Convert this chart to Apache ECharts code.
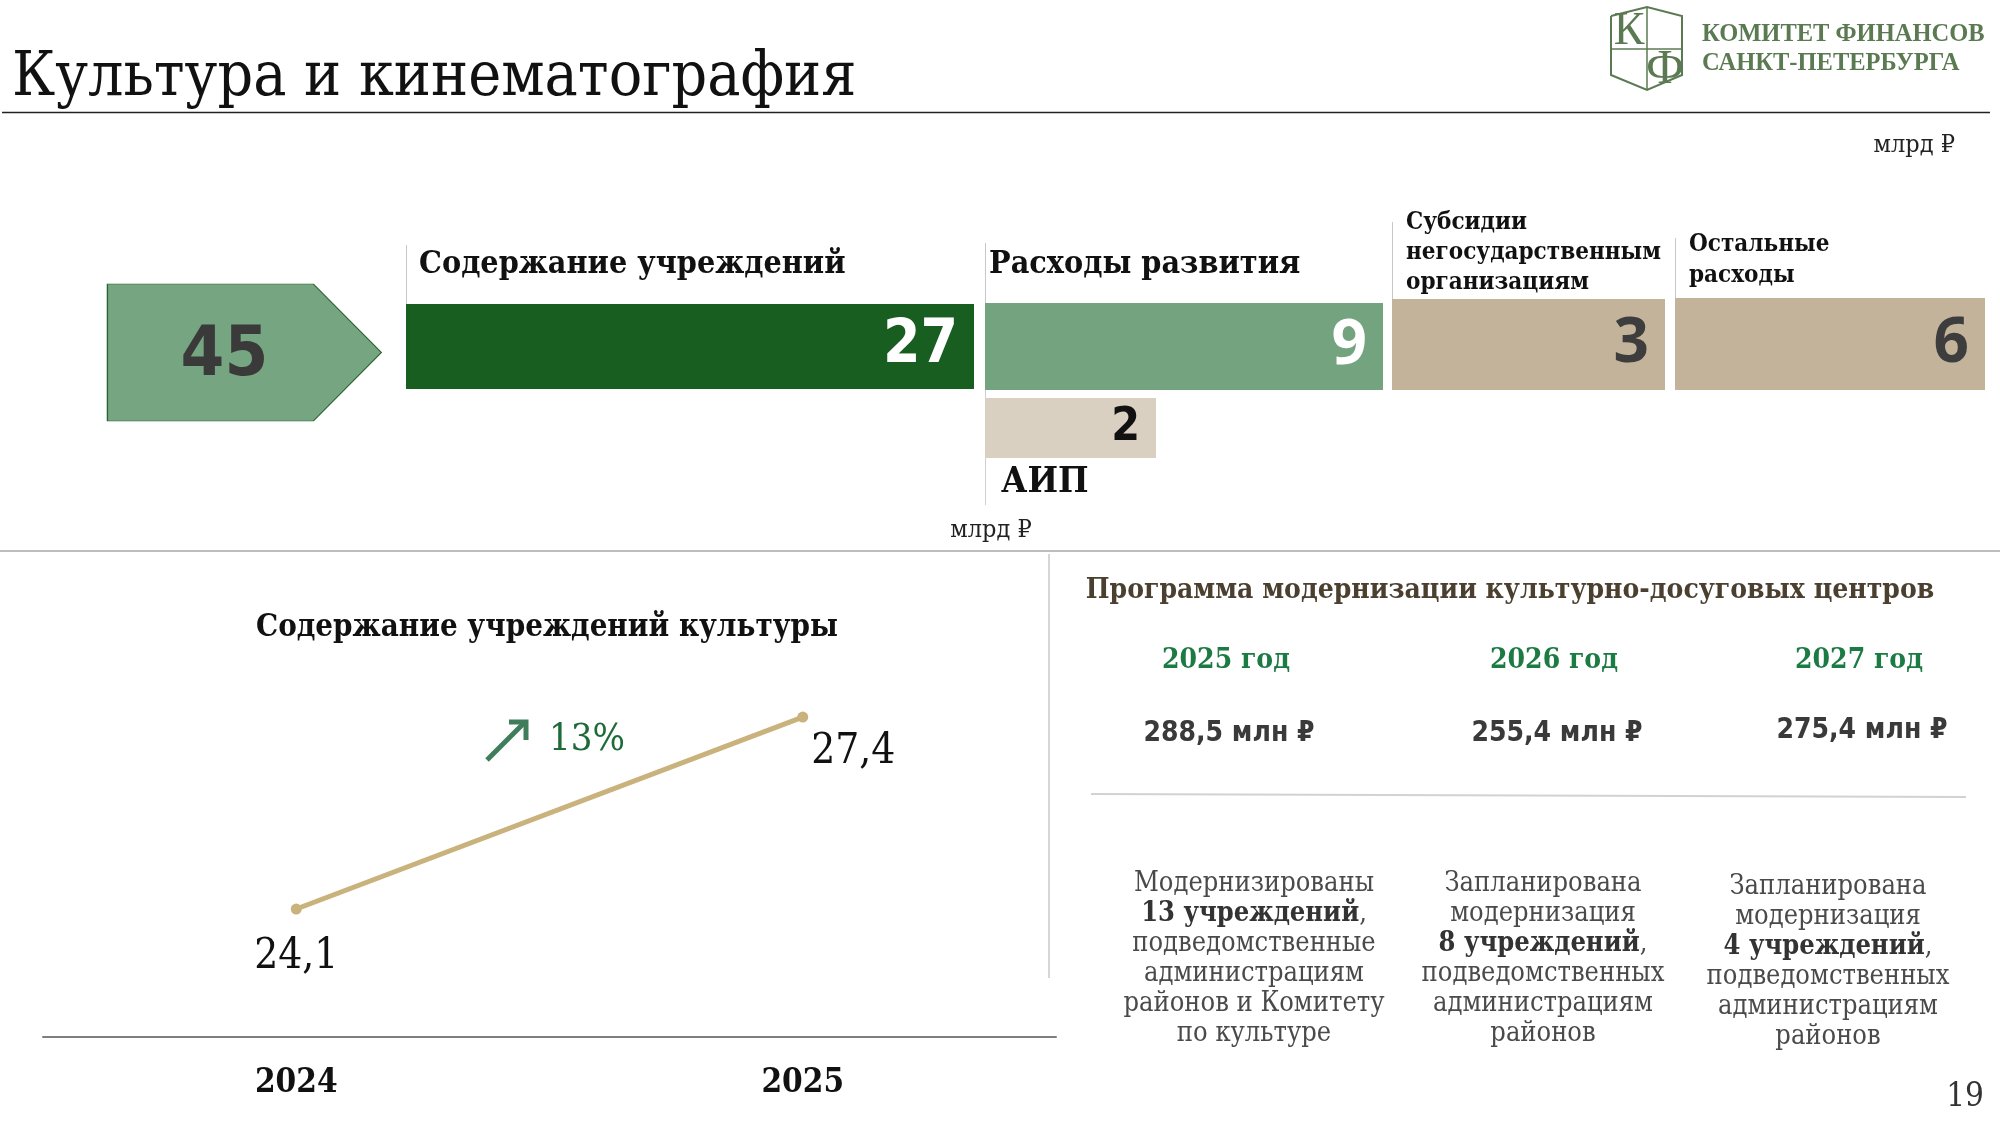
<!DOCTYPE html>
<html><head><meta charset="utf-8">
<script src="https://cdn.jsdelivr.net/npm/echarts@6/dist/echarts.min.js"></script>
<style>html,body{margin:0;padding:0;background:#fff}#c{width:2000px;height:1125px}</style>
</head><body><div id="c"></div>
<script>
// ---------------- DATA ----------------
const pageTitle = 'Культура и кинематография';
const logoLines = ['КОМИТЕТ ФИНАНСОВ', 'САНКТ-ПЕТЕРБУРГА'];
const unitLabel = 'млрд ₽';
const totalValue = 45;
const blockNames = ['Содержание учреждений', 'Расходы развития', 'Субсидии\nнегосударственным\nорганизациям', 'Остальные\nрасходы'];
const blockValues = [27, 9, 3, 6];
const aipName = 'АИП';
const aipValue = 2;
const lineTitle = 'Содержание учреждений культуры';
const lineYears = ['2024', '2025'];
const lineValues = [24.1, 27.4];
const growthLabel = '13%';
const progTitle = 'Программа модернизации культурно-досуговых центров';
const progYears = ['2025 год', '2026 год', '2027 год'];
const progAmounts = ['288,5 млн ₽', '255,4 млн ₽', '275,4 млн ₽'];
const progTexts = [
  'Модернизированы\n{b|13 учреждений},\nподведомственные\nадминистрациям\nрайонов и Комитету\nпо культуре',
  'Запланирована\nмодернизация\n{b|8 учреждений},\nподведомственных\nадминистрациям\nрайонов',
  'Запланирована\nмодернизация\n{b|4 учреждений},\nподведомственных\nадминистрациям\nрайонов'
];
const pageNumber = '19';

// ---------------- LAYOUT / STYLE ----------------
const SERIF = "'DejaVu Serif Condensed','DejaVu Serif',serif";
const NARROW = "'Liberation Sans Narrow','DejaVu Sans Condensed',sans-serif";
const OPEN = "'Open Sans','DejaVu Sans',sans-serif";
const LOGO = "'Liberation Serif','DejaVu Serif',serif";
const LOGO_C = '#5b7a52';

const blockBoxes = [
  {l: 406, t: 304, w: 568, h: 85, color: '#185e20', lc: '#ffffff', font: NARROW, size: 60, tx: 419, ty: 265, ts: 32, tl: 38, lineTop: 245},
  {l: 985, t: 303, w: 398, h: 87, color: '#74a47f', lc: '#ffffff', font: OPEN, size: 62, tx: 989, ty: 265, ts: 32, tl: 38, lineTop: 243},
  {l: 1392, t: 299, w: 273, h: 91, color: '#c2b39a', lc: '#3d3d3d', font: OPEN, size: 62, tx: 1406, ty: 253, ts: 24, tl: 30, lineTop: 222},
  {l: 1675, t: 298, w: 310, h: 92, color: '#c2b39a', lc: '#3d3d3d', font: OPEN, size: 62, tx: 1689, ty: 260, ts: 24, tl: 31, lineTop: 238}
];
const aipBox = {l: 985, t: 398, w: 171, h: 60, color: '#d9d0c2'};
const pentBox = {l: 106, t: 283, w: 274, h: 139};

const grids = [], xAxes = [], yAxes = [], series = [];
function addGrid(box) {
  const i = grids.length;
  grids.push({left: box.l, top: box.t, width: box.w, height: box.h});
  return i;
}

// pentagon total
{
  const gi = addGrid(pentBox);
  xAxes.push({gridIndex: gi, type: 'value', min: 0, max: totalValue, show: false});
  yAxes.push({gridIndex: gi, type: 'category', data: ['total'], show: false});
  series.push({
    type: 'pictorialBar', xAxisIndex: gi, yAxisIndex: gi,
    symbol: 'path://M0,0 L206,0 L274,69.5 L206,139 L0,139 Z',
    symbolSize: ['100%', pentBox.h - 2], symbolPosition: 'start', barCategoryGap: '0%',
    data: [totalValue],
    itemStyle: {color: '#76a581', borderColor: '#2a6530', borderWidth: 2},
    label: {show: true, position: 'inside', offset: [-20, 4], color: '#3a3a3a',
      fontFamily: NARROW, fontWeight: 'bold', fontSize: 70}
  });
}
// blocks
blockValues.forEach((v, k) => {
  const b = blockBoxes[k];
  const gi = addGrid(b);
  xAxes.push({gridIndex: gi, type: 'value', min: 0, max: v, show: false});
  yAxes.push({gridIndex: gi, type: 'category', data: [blockNames[k]], show: false});
  series.push({
    type: 'bar', xAxisIndex: gi, yAxisIndex: gi, barWidth: '100%',
    data: [v], itemStyle: {color: b.color},
    label: {show: true, position: 'insideRight', distance: 16, color: b.lc,
      fontFamily: b.font, fontWeight: 'bold', fontSize: b.size}
  });
});
// AIP
{
  const gi = addGrid(aipBox);
  xAxes.push({gridIndex: gi, type: 'value', min: 0, max: aipValue, show: false});
  yAxes.push({gridIndex: gi, type: 'category', data: [aipName], show: false});
  series.push({
    type: 'bar', xAxisIndex: gi, yAxisIndex: gi, barWidth: '100%',
    data: [aipValue], itemStyle: {color: aipBox.color},
    label: {show: true, position: 'insideRight', distance: 16, color: '#111',
      fontFamily: NARROW, fontWeight: 'bold', fontSize: 46}
  });
}
// line chart
{
  const gi = grids.length;
  grids.push({left: 43, width: 1013, top: 624, bottom: 88});
  xAxes.push({gridIndex: gi, type: 'category', data: lineYears, boundaryGap: true,
    axisLine: {lineStyle: {color: '#7f7f7f', width: 2}}, axisTick: {show: false},
    axisLabel: {margin: 30, fontFamily: SERIF, fontWeight: 'bold', fontSize: 33, color: '#111'}});
  yAxes.push({gridIndex: gi, type: 'value', min: 21.9, max: 29, show: false});
  const fmt = p => String(p.value).replace('.', ',');
  series.push({
    type: 'line', xAxisIndex: gi, yAxisIndex: gi,
    data: [
      {value: lineValues[0], label: {position: 'bottom', distance: 22}},
      {value: lineValues[1], label: {position: 'right', distance: 3, offset: [0, 35]}}
    ],
    symbol: 'circle', symbolSize: 11,
    lineStyle: {color: '#c9b27c', width: 5}, itemStyle: {color: '#c9b27c'},
    label: {show: true, formatter: fmt, fontFamily: SERIF, fontSize: 42, color: '#111'}
  });
}

// ---------------- GRAPHIC (texts & decorations) ----------------
const g = [];
const txt = (x, y, text, o) => g.push({type: 'text', x, y, silent: true, style: Object.assign({
  text, fontFamily: SERIF, fontSize: 24, fill: '#222', textAlign: 'left', textVerticalAlign: 'middle',
  align: 'left', verticalAlign: 'middle'}, o)});
const ln = (x1, y1, x2, y2, stroke, w) => g.push({type: 'line', silent: true,
  shape: {x1, y1, x2, y2}, style: {stroke, lineWidth: w}});

// title
txt(12, 79, pageTitle, {fontSize: 62, fill: '#111'});
ln(2, 112.5, 1990, 112.5, '#222', 1.5);
// logo
g.push({type: 'polyline', silent: true, shape: {points: [[1611, 16], [1647, 7], [1682, 16], [1682, 75], [1647, 90], [1611, 75], [1611, 16]]},
  style: {stroke: LOGO_C, lineWidth: 2, fill: 'none'}});
ln(1647, 7, 1647, 90, LOGO_C, 1.5);
ln(1611, 49, 1682, 49, LOGO_C, 1.5);
txt(1629, 32, 'К', {fontFamily: LOGO, fontSize: 46, fill: LOGO_C, textAlign: 'center', align: 'center'});
txt(1665, 70, 'Ф', {fontFamily: LOGO, fontSize: 48, fill: LOGO_C, textAlign: 'center', align: 'center'});
txt(1702, 35, logoLines[0], {fontFamily: LOGO, fontSize: 24.5, fontWeight: 'bold', fill: LOGO_C});
txt(1702, 64, logoLines[1], {fontFamily: LOGO, fontSize: 24.5, fontWeight: 'bold', fill: LOGO_C});
// units
txt(1955, 145, unitLabel, {fontSize: 25, textAlign: 'right', align: 'right'});
txt(991, 530, unitLabel, {fontSize: 25, textAlign: 'center', align: 'center'});

// block titles and thin lines
blockBoxes.forEach((b, k) => {
  const lines = blockNames[k].split('\n');
  const top = b.ty - (lines.length - 1) * b.tl / 2;
  g.push({type: 'text', x: b.tx, y: top - b.tl / 2, silent: true, style: {
    text: blockNames[k], fontFamily: SERIF, fontWeight: 'bold', fontSize: b.ts, lineHeight: b.tl,
    fill: '#111', textAlign: 'left', textVerticalAlign: 'top', align: 'left', verticalAlign: 'top'}});
  ln(b.l + 0.5, b.lineTop, b.l + 0.5, b.t, '#c8c8c8', 1);
});
ln(985.5, 390, 985.5, 505, '#d0d0d0', 1);
txt(1001, 483, aipName, {fontWeight: 'bold', fontSize: 36, fill: '#111'});

// separators
ln(0, 551, 2000, 551, '#bdbdbd', 2);
ln(1049, 554, 1049, 978, '#d6d6d6', 2);

// line chart title and growth
txt(547, 628, lineTitle, {fontWeight: 'bold', fontSize: 31, fill: '#111', textAlign: 'center', align: 'center'});
ln(487, 760, 525, 722, '#3f7d5b', 5);
g.push({type: 'polyline', silent: true, shape: {points: [[509, 722], [526, 722], [526, 740]]},
  style: {stroke: '#3f7d5b', lineWidth: 5, fill: 'none'}});
txt(549, 740, growthLabel, {fontSize: 38, fill: '#1d6b39'});

// right panel
txt(1510, 591, progTitle, {fontWeight: 'bold', fontSize: 28, fill: '#4b3f2f', textAlign: 'center', align: 'center'});
const colX = [1226, 1554, 1859];
const amtY = [734, 734, 731];
const descX = [1254, 1543, 1828];
const descTop = [884, 884, 887];
progYears.forEach((y, k) => {
  txt(colX[k], 661, y, {fontWeight: 'bold', fontSize: 28, fill: '#1c7a43', textAlign: 'center', align: 'center'});
  txt(colX[k] + 3, amtY[k], progAmounts[k], {fontFamily: "'DejaVu Sans Condensed','DejaVu Sans',sans-serif", fontWeight: 'bold', fontSize: 28, fill: '#3a3a3a', textAlign: 'center', align: 'center'});
  g.push({type: 'text', x: descX[k], y: descTop[k] - 15, silent: true, style: {
    text: progTexts[k], fontFamily: SERIF, fontSize: 27, lineHeight: 30, fill: '#4a4a4a',
    textAlign: 'center', align: 'center', textVerticalAlign: 'top', verticalAlign: 'top',
    rich: {b: {fontFamily: SERIF, fontSize: 27, fontWeight: 'bold', lineHeight: 30, fill: '#333', color: '#333'}}}});
});
ln(1091, 794, 1966, 797, '#d2d2d2', 2);
txt(1984, 1097, pageNumber, {fontSize: 33, fill: '#333', textAlign: 'right', align: 'right'});

const chart = echarts.init(document.getElementById('c'), null, {renderer: 'canvas'});
chart.setOption({
  animation: false,
  backgroundColor: '#ffffff',
  grid: grids, xAxis: xAxes, yAxis: yAxes, series: series,
  graphic: {elements: g}
});
</script></body></html>
